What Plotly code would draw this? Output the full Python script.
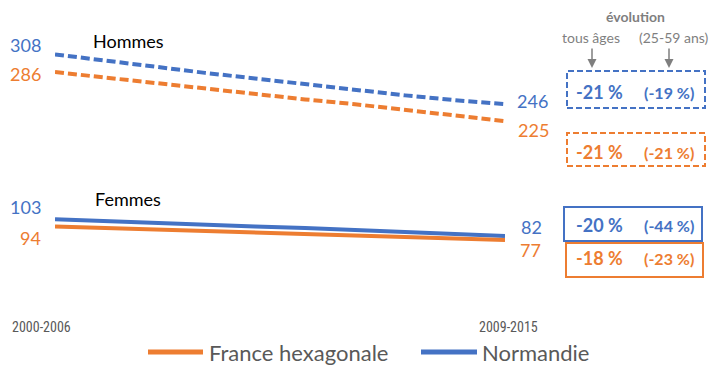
import plotly.graph_objects as go

# ---- data ----
periods = ["2000-2006", "2001-2007", "2002-2008", "2003-2009", "2004-2010",
           "2005-2011", "2006-2012", "2007-2013", "2008-2014", "2009-2015"]
normandie_hommes = [308, 300, 293, 285, 278, 271, 263, 257, 251, 246]
france_hommes = [286, 279, 272, 265, 258, 252, 246, 239, 232, 225]
normandie_femmes = [103, 100.5, 98, 96.5, 94, 92, 89.5, 87, 84.5, 82]
france_femmes = [94, 92, 90, 88.5, 87, 85, 83, 81, 79, 77]
series_names = ["France hexagonale", "Normandie"]
group_labels = ["Hommes", "Femmes"]
evo_header = ["évolution", "tous âges", "(25-59 ans)"]
# order: Hommes Normandie, Hommes France, Femmes Normandie, Femmes France
evo_tous_ages = ["-21 %", "-21 %", "-20 %", "-18 %"]
evo_25_59 = ["(-19 %)", "(-21 %)", "(-44 %)", "(-23 %)"]

BLUE = "#4472C4"
ORANGE = "#ED7D31"
GRAY = "#7F7F7F"
DGRAY = "#595959"
FONT = "Lato, 'Open Sans', sans-serif"
NARROW = "'Liberation Sans Narrow', 'Roboto Condensed', 'DejaVu Sans Condensed', Lato, sans-serif"

OFF = 8  # page body margin offset
W, H = 727 - OFF, 365 - OFF
ML = 55 - OFF
MR = W - (505 - OFF)
MT = 28 - OFF
MB = H - (302 - OFF)
PW, PH = W - ML - MR, H - MT - MB


def px(xp):
    return (xp - OFF - ML) / PW


def py(yp):
    return (H - MB - (yp - OFF)) / PH


fig = go.Figure()
fig.add_trace(go.Scatter(x=periods, y=normandie_hommes, mode="lines", name=series_names[1],
                         line=dict(color=BLUE, width=4, dash="9px,4px"), showlegend=False))
fig.add_trace(go.Scatter(x=periods, y=france_hommes, mode="lines", name=series_names[0],
                         line=dict(color=ORANGE, width=4, dash="9px,4px"), showlegend=False))
fig.add_trace(go.Scatter(x=periods, y=normandie_femmes, mode="lines", name=series_names[1],
                         line=dict(color=BLUE, width=4), showlegend=False))
fig.add_trace(go.Scatter(x=periods, y=france_femmes, mode="lines", name=series_names[0],
                         line=dict(color=ORANGE, width=4), showlegend=False))

ann = []


def lab(text, x, y, color, size, xshift=0, yshift=0, xanchor="center", bold=False,
        xref="x", yref="y", family=FONT):
    ann.append(dict(text=f"<b>{text}</b>" if bold else text, x=x, y=y, xref=xref, yref=yref,
                    showarrow=False, xanchor=xanchor, yanchor="middle",
                    xshift=xshift, yshift=yshift,
                    font=dict(family=family, size=size, color=color)))


first, last = periods[0], periods[-1]
# start / end value labels
lab(str(round(normandie_hommes[0])), first, normandie_hommes[0], BLUE, 18, xshift=-12, yshift=9, xanchor="right")
lab(str(round(france_hommes[0])), first, france_hommes[0], ORANGE, 18, xshift=-12, yshift=-2, xanchor="right")
lab(str(round(normandie_femmes[0])), first, normandie_femmes[0], BLUE, 18, xshift=-12, yshift=12, xanchor="right")
lab(str(round(france_femmes[0])), first, france_femmes[0], ORANGE, 18, xshift=-12, yshift=-12, xanchor="right")
lab(str(round(normandie_hommes[-1])), last, normandie_hommes[-1], BLUE, 18, xshift=27, yshift=3)
lab(str(round(france_hommes[-1])), last, france_hommes[-1], ORANGE, 18, xshift=28, yshift=-9)
lab(str(round(normandie_femmes[-1])), last, normandie_femmes[-1], BLUE, 18, xshift=26, yshift=9)
lab(str(round(france_femmes[-1])), last, france_femmes[-1], ORANGE, 18, xshift=25, yshift=-10)

# group labels
lab(group_labels[0], px(128), py(41), "#000000", 18, xref="paper", yref="paper")
lab(group_labels[1], px(128), py(199), "#000000", 18, xref="paper", yref="paper")

# period labels
lab(first, first, py(327), DGRAY, 14, xshift=-14, yref="paper", family=NARROW)
lab(last, last, py(327), DGRAY, 14, xshift=3, yref="paper", family=NARROW)

# evolution header
lab(evo_header[0], px(635), py(17), GRAY, 14, bold=True, xref="paper", yref="paper")
lab(evo_header[1], px(591), py(37), GRAY, 14, xref="paper", yref="paper")
lab(evo_header[2], px(674), py(37), GRAY, 14, xref="paper", yref="paper")
for ax_x in (592, 669):
    ann.append(dict(x=px(ax_x), y=py(68), xref="paper", yref="paper", text="",
                    showarrow=True, arrowhead=2, arrowsize=1.2, arrowwidth=1.5,
                    arrowcolor=GRAY, ax=0, ay=-21))

# boxes
boxes = [  # x0, x1, y0, y1, color, dash, text y
    (567, 705, 71, 108, BLUE, "6px,3px", 92),
    (567, 705, 133, 166, ORANGE, "6px,3px", 152),
    (564, 702, 207, 241, BLUE, "solid", 225),
    (566, 703, 243, 277, ORANGE, "solid", 258),
]
shapes = []
for i, (x0, x1, y0, y1, col, dash, ty) in enumerate(boxes):
    shapes.append(dict(type="rect", xref="paper", yref="paper",
                       x0=px(x0), x1=px(x1), y0=py(y1), y1=py(y0),
                       line=dict(color=col, width=2, dash=dash)))
    lab(evo_tous_ages[i], px(599), py(ty), col, 18, bold=True, xref="paper", yref="paper")
    lab(evo_25_59[i], px(669), py(ty), col, 16, bold=True, xref="paper", yref="paper")

# legend (manual)
leg_items = [(series_names[0], ORANGE, 148, 203, 207), (series_names[1], BLUE, 421, 477, 480)]
for name, col, x0, x1, tx in leg_items:
    shapes.append(dict(type="line", xref="paper", yref="paper",
                       x0=px(x0), x1=px(x1), y0=py(352), y1=py(352),
                       line=dict(color=col, width=5)))
    lab(name, px(tx), py(352), DGRAY, 22, xanchor="left", xref="paper", yref="paper")

fig.update_layout(
    width=W, height=H,
    margin=dict(l=ML, r=MR, t=MT, b=MB),
    paper_bgcolor="white", plot_bgcolor="white",
    xaxis=dict(type="category", range=[0, len(periods) - 1], visible=False),
    yaxis=dict(range=[0, PH / 0.804], visible=False),
    annotations=ann, shapes=shapes,
    showlegend=False,
)
fig.write_html("out.html")
